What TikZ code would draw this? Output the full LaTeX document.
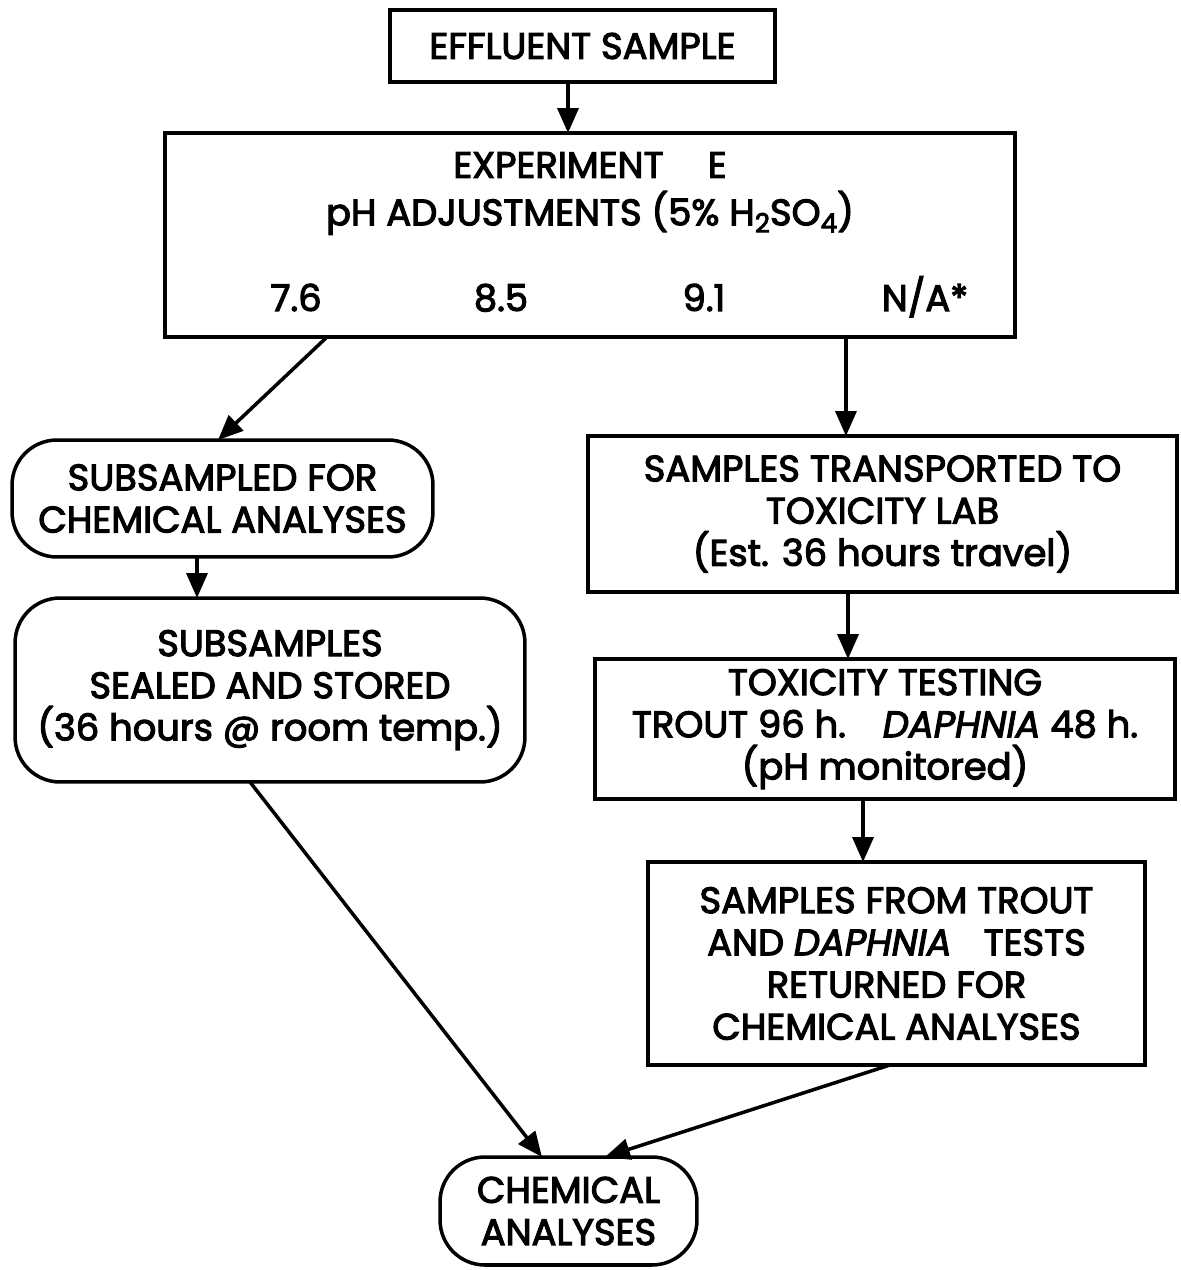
\documentclass[tikz,border=0pt]{standalone}
\usepackage{fontspec}
\setmainfont{Poppins}[FakeBold=3]
\usetikzlibrary{arrows.meta}
\newcommand\flowfont{\fontsize{21}{24}\selectfont}
\newcommand\sbs[1]{\raisebox{-0.35ex}{\fontsize{15}{15}\selectfont #1}}

\begin{document}
\begin{tikzpicture}[x=0.02cm,y=-0.02cm,
  >={Triangle[length=0.5cm,width=0.42cm]},line width=2pt,
  box/.style={draw,rectangle,align=center,inner sep=0pt,outer sep=0pt,font=\flowfont},
  rbox/.style={box,rounded corners=0.9cm},
  txt/.style={align=center,inner sep=0pt,font=\flowfont}]
  \useasboundingbox (0,0) rectangle (1180,1270);

  % boxes
  \node [box,minimum width=7.7cm,minimum height=1.44cm] (eff) at (582.5,46) {EFFLUENT SAMPLE};
  \node [box,minimum width=17cm,minimum height=4.08cm] (exp) at (590,235) {};
  \node [txt] (exptitle) at (590,193.5) {EXPERIMENT\hspace{1.2em}E\\[3pt]pH ADJUSTMENTS (5\% H\sbs{2}SO\sbs{4})};
  \foreach \x/\v [count=\i] in {296/7.6, 501/8.5, 704/9.1, 925/N\slash A*}
    \node [txt,anchor=base] (ph\i) at (\x,311) {\v};

  \node [rbox,minimum width=8.42cm,minimum height=2.34cm] (sub) at (222.5,498.5)
    {SUBSAMPLED FOR\\CHEMICAL ANALYSES};
  \node [rbox,minimum width=10.2cm,minimum height=3.68cm] (seal) at (270,690)
    {SUBSAMPLES\\SEALED AND STORED\\ (36 hours @ room temp.)};
  \node [box,minimum width=11.78cm,minimum height=3.12cm] (trans) at (882.5,514)
    {SAMPLES TRANSPORTED TO\\TOXICITY LAB\\(Est. 36 hours travel)};
  \node [box,minimum width=11.6cm,minimum height=2.8cm] (tox) at (885,729)
    {TOXICITY TESTING\\TROUT 96 h.\hspace{1em}\textit{DAPHNIA} 48 h.\\(pH monitored)};
  \node [box,minimum width=9.94cm,minimum height=4.06cm] (ret) at (896.5,963.5)
    {SAMPLES FROM TROUT\\AND \textit{DAPHNIA}\hspace{0.6em} TESTS\\RETURNED FOR\\CHEMICAL ANALYSES};
  \node [rbox,minimum width=5.14cm,minimum height=2.16cm] (chem) at (568.5,1211)
    {CHEMICAL\\ANALYSES};

  % arrows
  \draw [->] ([xshift=-0.29cm]eff.south) -- ([xshift=-0.29cm]eff.south |- exp.north);
  \draw [->] ([xshift=-5.26cm]exp.south) -- ([xshift=-0.09cm]sub.north);
  \draw [->] ([xshift=5.12cm]exp.south) -- ([xshift=5.12cm]exp.south |- trans.north);
  \draw [->] ([xshift=-0.51cm]sub.south) -- ([xshift=-0.51cm]sub.south |- seal.north);
  \draw [->] ([xshift=-0.69cm]trans.south) -- ([xshift=-0.69cm]trans.south |- tox.north);
  \draw [->] ([xshift=-0.44cm]tox.south) -- ([xshift=-0.44cm]tox.south |- ret.north);
  \draw [->] ([xshift=-0.4cm]seal.south) -- ([xshift=-0.53cm]chem.north);
  \draw [->] ([xshift=-0.13cm]ret.south) -- ([xshift=0.73cm]chem.north);
\end{tikzpicture}
\end{document}
